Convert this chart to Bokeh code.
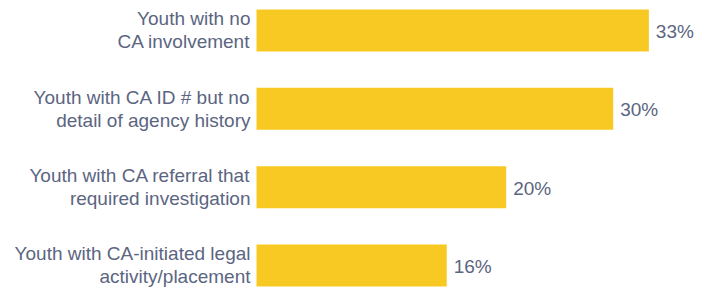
from bokeh.plotting import figure
from bokeh.models import Range1d, ColumnDataSource
from bokeh.core.properties import value
from bokeh.embed import file_html
from bokeh.resources import INLINE

# Data
categories = [
    "Youth with no\nCA involvement",
    "Youth with CA ID # but no\ndetail of agency history",
    "Youth with CA referral that\nrequired investigation",
    "Youth with CA-initiated legal\nactivity/placement",
]
values = [33, 30, 21, 16]
value_labels = ["33%", "30%", "20%", "16%"]

BAR = "#F9C923"
TXT = "#5B6581"
FONT = value("Liberation Sans")

pos = list(range(len(categories)))

p = figure(width=709, height=289, output_backend="svg", toolbar_location=None,
           x_range=Range1d(-21.53, 38.10), y_range=Range1d(3.307, -0.383),
           min_border=0, outline_line_color=None)
p.axis.visible = False
p.grid.visible = False
p.background_fill_color = "white"
p.border_fill_color = "white"

src = ColumnDataSource(dict(y=pos, v=values, lab=value_labels))
p.hbar(y="y", left=0, right="v", height=0.536, source=src,
       fill_color=BAR, line_color=None)

p.text(x="v", y="y", text="lab", source=src, x_offset=7, y_offset=1,
       text_align="left", text_baseline="middle", text_font=FONT,
       text_font_size="19px", text_color=TXT)

line1 = [c.split("\n")[0] for c in categories]
line2 = [c.split("\n")[1] for c in categories]
zeros = [0] * len(categories)
p.text(x=zeros, y=pos, text=line1, x_offset=-6, y_offset=-11.5,
       text_align="right", text_baseline="middle", text_font=FONT,
       text_font_size="19px", text_color=TXT)
p.text(x=zeros, y=pos, text=line2, x_offset=-6, y_offset=11.5,
       text_align="right", text_baseline="middle", text_font=FONT,
       text_font_size="19px", text_color=TXT)

open("out.html", "w").write(file_html(p, INLINE))
